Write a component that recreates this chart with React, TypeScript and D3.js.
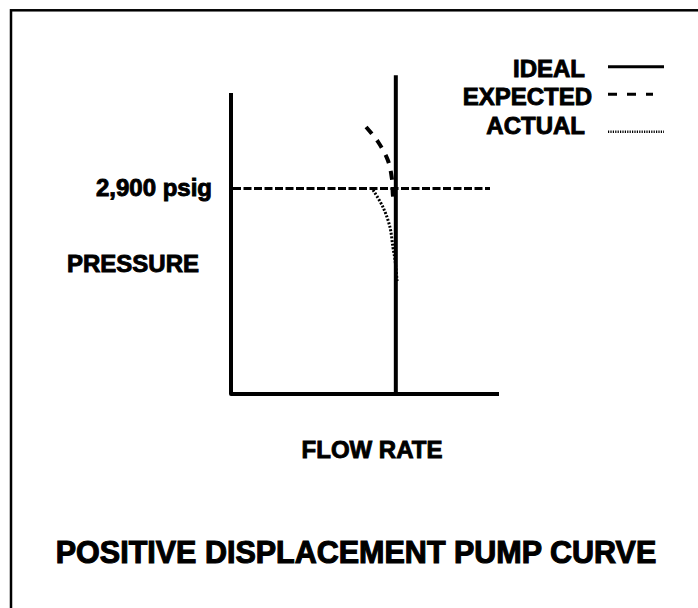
// React
import React from 'react';

// Installed Packages
import * as d3 from 'd3';

// Chart values (flow rate in % of full scale, pressure in psig)
const flowDomain = [0, 100];
const pressureDomain = [0, 4250];

const idealFlow = 61.5;
const idealTop = 4500;
const setPressure = 2900;
const setPressureLabel = '2,900 psig';

const expectedFlow = [50.4, 54.9, 58.5, 60.0, 60.4, 60.8];
const expectedPressure = [3770, 3558, 3304, 3050, 2810, 2669];

const actualFlow = [53.0, 56.7, 59.3, 60.4, 61.2, 62.0];
const actualPressure = [2880, 2640, 2358, 2076, 1892, 1582];

const legendItems = ['IDEAL', 'EXPECTED', 'ACTUAL'];

const FONT = '"Liberation Sans", Arial, Helvetica, sans-serif';

export default function App() {
    const width = 698;
    const height = 608;

    // Plot frame
    const x = d3.scaleLinear().domain(flowDomain).range([231, 499]);
    const y = d3.scaleLinear().domain(pressureDomain).range([394, 93]);

    const line = d3.line<[number, number]>()
        .x(d => x(d[0]))
        .y(d => y(d[1]))
        .curve(d3.curveCatmullRom);

    const expected = expectedFlow.map((f, i) => [f, expectedPressure[i]] as [number, number]);
    const actual = actualFlow.map((f, i) => [f, actualPressure[i]] as [number, number]);

    // Axes drawn as a single corner path
    const axisPath = d3.path();
    axisPath.moveTo(x(0), y(pressureDomain[1]));
    axisPath.lineTo(x(0), y(0));
    axisPath.lineTo(x(flowDomain[1]), y(0));

    // heavier lettering, like the original's black sans
    const textStyle = { stroke: '#000', strokeWidth: 0.9, paintOrder: 'stroke' as const };

    // legend layout: text baseline, swatch y, swatch end, dash pattern
    const legendLayout = [
        { tx: 585, ty: 76.5, ly: 66.7, x2: 664, dash: 'none', sw: 3 },
        { tx: 592, ty: 105, ly: 94.3, x2: 653, dash: '9 10', sw: 3 },
        { tx: 585, ty: 133.5, ly: 131.7, x2: 664, dash: '1.2 1.2', sw: 2.5 },
    ];

    return (
        <svg width={width} height={height} style={{ position: 'absolute', left: 0, top: 0, display: 'block', background: '#fff' }}
            fontFamily={FONT} fontWeight="bold">
            {/* Border */}
            <rect x={11} y={10.3} width={720} height={640} fill="none" stroke="#000" strokeWidth={2.5} />

            {/* Axes */}
            <path d={axisPath.toString()} fill="none" stroke="#000" strokeWidth={4} strokeLinejoin="round" />

            {/* Set pressure line */}
            <line x1={x(0) + 2} x2={490} y1={y(setPressure)} y2={y(setPressure)}
                stroke="#000" strokeWidth={3} strokeDasharray="8 2.5" />

            {/* Ideal */}
            <line x1={x(idealFlow)} x2={x(idealFlow)} y1={y(idealTop)} y2={y(0)} stroke="#000" strokeWidth={4} />

            {/* Expected */}
            <path d={line(expected) || ''} fill="none" stroke="#000" strokeWidth={4} strokeDasharray="9 8" />

            {/* Actual */}
            <path d={line(actual) || ''} fill="none" stroke="#000" strokeWidth={3} strokeDasharray="2 1.6" />

            {/* Labels */}
            <g style={textStyle}>
                <text x={212} y={y(setPressure) + 7} textAnchor="end" fontSize={24}>{setPressureLabel}</text>
                <text x={199} y={272} textAnchor="end" fontSize={24}>PRESSURE</text>
                <text x={372} y={458} textAnchor="middle" fontSize={24}>FLOW RATE</text>
                <text x={356} y={563} textAnchor="middle" fontSize={30.5} strokeWidth={1.1}>POSITIVE DISPLACEMENT PUMP CURVE</text>
            </g>

            {/* Legend */}
            {legendItems.map((name, i) => {
                const l = legendLayout[i];
                return (
                    <g key={name}>
                        <text x={l.tx} y={l.ty} textAnchor="end" fontSize={24} style={textStyle}>{name}</text>
                        <line x1={608} x2={l.x2} y1={l.ly} y2={l.ly} stroke="#000"
                            strokeWidth={l.sw} strokeDasharray={l.dash} />
                    </g>
                );
            })}
        </svg>
    );
}
